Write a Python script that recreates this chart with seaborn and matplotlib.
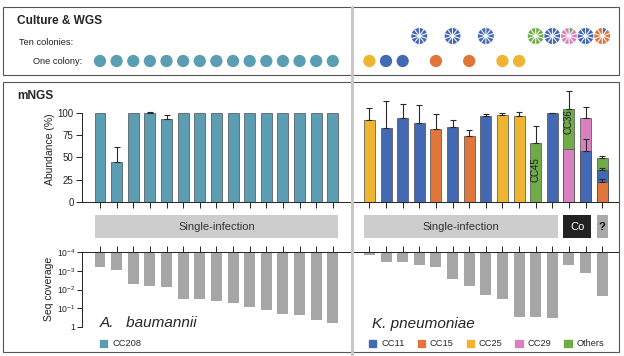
import matplotlib
matplotlib.use('Agg')
import matplotlib.pyplot as plt
import matplotlib.transforms as mtransforms
from matplotlib.patches import Rectangle, Patch
from matplotlib.lines import Line2D
import seaborn as sns
import numpy as np
import pandas as pd

W, H = 624, 356

# clonal complex colours
cc_colors = {
    'CC208': '#5b9db3',
    'CC11': '#4369b3',
    'CC15': '#e0763a',
    'CC25': '#f0b530',
    'CC29': '#d980be',
    'Others': '#70ab49',
}

# A. baumannii (15 samples)
a_cc = ['CC208'] * 15
a_abund = [100, 44.5, 100, 100, 93.2, 100, 100, 100, 100, 100, 100, 100, 100, 100, 100]
a_err_top = [np.nan, 61.2, np.nan, 100.6, 97.3] + [np.nan] * 10
a_seq_cov = [5.9e-4, 8.9e-4, 5.1e-3, 6.3e-3, 7.4e-3, 3.2e-2, 3.2e-2, 3.9e-2,
             5.0e-2, 8.1e-2, 0.12, 0.19, 0.22, 0.42, 0.63]

# K. pneumoniae (15 samples), abundance segments: sample, cc, top of segment, top of error bar
k_seg_sample = list(range(15)) + [12, 13, 14, 14]
k_seg_cc = ['CC25', 'CC11', 'CC11', 'CC11', 'CC15', 'CC11', 'CC15', 'CC11', 'CC25', 'CC25',
            'Others', 'CC11', 'CC29', 'CC11', 'CC15',
            'Others', 'CC29', 'CC11', 'Others']
k_seg_top = [92, 83, 94.5, 88.5, 81.5, 84, 73.5, 96.5, 97.5, 96.5, 65.5, 99.5, 59.5, 56.5, 22,
             103.5, 94.5, 36.2, 49.2]
k_seg_err = [105.5, 112.5, 109.5, 109, 98, 92, 80, 98, 99, 100.5, 84.5, 100, np.nan, 70, 25.5,
             124, 106.5, 38.5, 51]
k_seq_cov = [1.4e-4, 3.2e-4, 3.2e-4, 4.8e-4, 6.2e-4, 2.7e-3, 6.6e-3, 1.9e-2, 3.2e-2,
             0.28, 0.30, 0.34, 4.8e-4, 1.3e-3, 2.2e-2]

# culture & WGS results
a_one_colony = ['CC208'] * 15
k_one_colony = {0: 'CC25', 1: 'CC11', 2: 'CC11', 4: 'CC15', 6: 'CC15', 8: 'CC25', 9: 'CC25'}
k_ten_colonies = {3: {'CC11': 10}, 5: {'CC11': 10}, 7: {'CC11': 10}, 10: {'Others': 10},
                  11: {'CC11': 10}, 12: {'Others': 1, 'CC29': 9}, 13: {'CC11': 10},
                  14: {'CC11': 1, 'CC15': 9}}

# infection groups: label, first, last K sample, box colour, text colour
k_groups = [('Single-infection', 0, 11, '#cdcdcd', '#333333'),
            ('Co', 12, 13, '#222222', 'white'),
            ('?', 14, 14, '#a9a9a9', '#111111')]

k_labels = {10: 'CC45', 12: 'CC36'}

##################################################################################
sns.set_theme(style='ticks')
plt.rcParams['font.family'] = ['Liberation Sans', 'DejaVu Sans']
plt.rcParams['mathtext.fontset'] = 'custom'
plt.rcParams['mathtext.rm'] = 'Liberation Sans'

a_x = np.arange(15)
k_x = np.arange(15) + 16.2
LEFT, RIGHT = 82, 619
xlim = ((LEFT - 100) / 16.63, (RIGHT - 100) / 16.63)


def fx(px):
    return px / W


def fy(py):
    return 1 - py / H


fig = plt.figure(figsize=(W / 100, H / 100), dpi=100)

ax_ab = fig.add_axes([fx(LEFT), fy(202), fx(RIGHT) - fx(LEFT), 125 * 0.894 / H])
ax_seq = fig.add_axes([fx(LEFT), fy(327), fx(RIGHT) - fx(LEFT), (327 - 252.3) / H])
ax_top = fig.add_axes([fx(LEFT), fy(71), fx(RIGHT) - fx(LEFT), 20 / H])

# abundance bars, highest segment first so lower segments sit on top
segs = pd.DataFrame({
    'x': np.concatenate([a_x, k_x[k_seg_sample]]),
    'sample': [f'A{i}' for i in range(15)] + [f'K{i}' for i in k_seg_sample],
    'cc': a_cc + k_seg_cc,
    'top': a_abund + k_seg_top,
    'err': a_err_top + k_seg_err,
})
segs['layer'] = segs.groupby('sample')['top'].rank(ascending=False, method='first')
for layer in sorted(segs['layer'].unique()):
    sub = segs[segs['layer'] == layer]
    sns.barplot(data=sub, x='x', y='top', hue='cc', palette=cc_colors, native_scale=True,
                orient='x', dodge=False, width=0.66, errorbar=None, legend=False,
                saturation=1, edgecolor='#4d4d4d', linewidth=0.5, ax=ax_ab)

err = segs.dropna(subset=['err'])
ax_ab.errorbar(err['x'], err['top'], yerr=[np.zeros(len(err)), err['err'] - err['top']],
               fmt='none', ecolor='#2a2a2a', elinewidth=0.8, capsize=2.2, capthick=0.8)

for i, lab in k_labels.items():
    sub = segs[segs['sample'] == f'K{i}']
    ypos = sub['top'].min() * 0.55 if len(sub) == 1 else sub['top'].max() - 14
    ax_ab.text(k_x[i], ypos, lab, rotation=90, ha='center', va='center',
               fontsize=7, color='#1a1a1a')

ax_ab.set_xlim(xlim)
ax_ab.set_ylim(0, 125)
ax_ab.set_yticks([0, 25, 50, 75, 100])
ax_ab.set_xticks(np.concatenate([a_x, k_x]))
ax_ab.set_xticklabels([])
ax_ab.set_xlabel('')
ax_ab.set_ylabel('')
ax_ab.tick_params(axis='y', labelsize=7, length=4.5, width=0.7, pad=1.5, colors='#222222')
ax_ab.tick_params(axis='x', length=4.3, width=0.7, colors='#222222')
sns.despine(ax=ax_ab)
ax_ab.spines['left'].set_bounds(0, 100)
for s in ['left', 'bottom']:
    ax_ab.spines[s].set_linewidth(0.7)
    ax_ab.spines[s].set_color('#222222')

# sequencing coverage, bars hanging from 1e-4
seq = pd.DataFrame({'x': np.concatenate([a_x, k_x]), 'cov': a_seq_cov + k_seq_cov})
sns.barplot(data=seq, x='x', y='cov', native_scale=True, orient='x', width=0.66,
            errorbar=None, color='#a6a6a6', saturation=1, linewidth=0, ax=ax_seq)
ax_seq.set_yscale('log')
ax_seq.set_ylim(1, 1e-4)
ax_seq.set_xlim(xlim)
ax_seq.set_yticks([1e-4, 1e-3, 1e-2, 1e-1, 1])
ax_seq.set_yticklabels([r'$10^{-4}$', r'$10^{-3}$', r'$10^{-2}$', r'$10^{-1}$', '1'])
ax_seq.yaxis.set_minor_locator(matplotlib.ticker.NullLocator())
ax_seq.set_xticks(np.concatenate([a_x, k_x]))
ax_seq.xaxis.tick_top()
ax_seq.set_xticklabels([])
ax_seq.set_xlabel('')
ax_seq.set_ylabel('')
ax_seq.tick_params(axis='y', labelsize=6.2, length=3.5, width=0.7, pad=1.5, colors='#222222')
ax_seq.tick_params(axis='x', length=4, width=0.7, colors='#222222')
for s in ['bottom', 'right']:
    ax_seq.spines[s].set_visible(False)
ax_seq.spines['left'].set_bounds(1e-4, 1)
for s in ['left', 'top']:
    ax_seq.spines[s].set_linewidth(0.7)
    ax_seq.spines[s].set_color('#222222')

# one colony dots
dots = pd.DataFrame({
    'x': np.concatenate([a_x, k_x[list(k_one_colony.keys())]]),
    'y': 0.0,
    'cc': a_one_colony + list(k_one_colony.values()),
})
sns.scatterplot(data=dots, x='x', y='y', hue='cc', palette=cc_colors, s=78,
                edgecolor='none', legend=False, ax=ax_top)
ax_top.set_xlim(xlim)
ax_top.set_ylim(-1, 1)
ax_top.axis('off')

# ten colonies pies
for i, counts in k_ten_colonies.items():
    xp = ax_ab.transData.transform((k_x[i], 0))[0]
    pax = fig.add_axes([fx(xp - 10.5), fy(36 + 10.5), 21 / W, 21 / H])
    cols = [cc_colors[c] for c, n in counts.items() for _ in range(n)]
    pax.pie([1] * len(cols), colors=cols, startangle=90, counterclock=False,
            wedgeprops=dict(edgecolor='white', linewidth=0.6))
    pax.set_xlim(-1.25, 1.25)
    pax.set_ylim(-1.25, 1.25)

# group boxes between the panels
trans = mtransforms.blended_transform_factory(ax_ab.transData, fig.transFigure)
groups = [('Single-infection', a_x[0], a_x[-1], '#cdcdcd', '#333333')]
groups += [(lab, k_x[i0], k_x[i1], fc, tc) for lab, i0, i1, fc, tc in k_groups]
for lab, x0, x1, fc, tc in groups:
    fig.add_artist(Rectangle((x0 - 0.33, fy(238)), x1 - x0 + 0.66, 23 / H,
                             transform=trans, facecolor=fc, edgecolor='none'))
    fig.text((x0 + x1) / 2, fy(226.5), lab, transform=trans, ha='center', va='center',
             fontsize=8, color=tc, fontweight='bold' if lab == '?' else 'normal')

# frames and divider
fig.add_artist(Rectangle((fx(3), fy(75)), fx(619) - fx(3), 68 / H, transform=fig.transFigure,
                         fill=False, edgecolor='#555555', linewidth=0.8))
fig.add_artist(Rectangle((fx(3), fy(352)), fx(619) - fx(3), 270 / H, transform=fig.transFigure,
                         fill=False, edgecolor='#555555', linewidth=0.8))
fig.add_artist(Line2D([fx(352), fx(352)], [0, fy(7)], transform=fig.transFigure,
                      color='#c8c8c8', linewidth=2.2, zorder=5))

# texts
fig.text(fx(17), fy(21), 'Culture & WGS', fontsize=8.6, fontweight='bold', va='center')
fig.text(fx(19), fy(42.5), 'Ten colonies:', fontsize=6.7, va='center', color='#222222')
fig.text(fx(82), fy(61), 'One colony:', fontsize=6.7, va='center', ha='right', color='#222222')
fig.text(fx(17), fy(96), 'mNGS', fontsize=8.6, fontweight='bold', va='center')
fig.text(fx(50), fy(149), 'Abundance (%)', fontsize=7.5, rotation=90, ha='center', va='center',
         color='#222222')
fig.text(fx(49), fy(289), 'Seq coverage', fontsize=7.5, rotation=90, ha='center', va='center',
         color='#222222')
fig.text(fx(100), fy(323), 'A.   baumannii', fontsize=11, style='italic', va='center')
fig.text(fx(372), fy(324), 'K. pneumoniae', fontsize=11, style='italic', va='center')

# legends
leg_kw = dict(loc='center left', frameon=False, fontsize=6.7, handlelength=0.8,
              handleheight=0.8, handletextpad=0.5, borderaxespad=0, borderpad=0)
fig.legend(handles=[Patch(color=cc_colors['CC208'])], labels=['CC208'],
           bbox_to_anchor=(fx(100), fy(344)), **leg_kw)
k_leg = ['CC11', 'CC15', 'CC25', 'CC29', 'Others']
fig.legend(handles=[Patch(color=cc_colors[c]) for c in k_leg], labels=k_leg, ncol=5,
           columnspacing=1.4, bbox_to_anchor=(fx(369), fy(344)), **leg_kw)

fig.savefig('out.png', dpi=100)
